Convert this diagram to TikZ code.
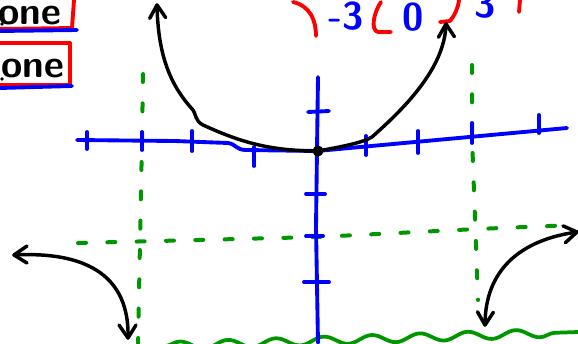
\documentclass[tikz,border=0pt]{standalone}
\usetikzlibrary{decorations.pathmorphing}

\tikzset{every picture/.style={line width=0.75pt}}
\tikzset{
  bluepen/.style={color={rgb, 255:red, 0; green, 0; blue, 255}, line width=2.9pt, line cap=round, line join=round},
  redpen/.style={color={rgb, 255:red, 255; green, 0; blue, 0}, line width=2.9pt, line cap=round, line join=round},
  blackpen/.style={color={rgb, 255:red, 0; green, 0; blue, 0}, line width=2.6pt, line cap=round, line join=round},
  greendash/.style={color={rgb, 255:red, 0; green, 150; blue, 0}, line width=3pt, line cap=round, dash pattern=on 6pt off 16pt},
  greenwave/.style={color={rgb, 255:red, 0; green, 150; blue, 0}, line width=2.8pt, decorate, decoration={snake, segment length=36pt, amplitude=3pt}},
  handtext/.style={font=\sffamily\bfseries\fontsize{29}{33}\selectfont, inner sep=0pt},
  bluetext/.style={handtext, color={rgb, 255:red, 0; green, 0; blue, 255}}
}

\begin{document}
\begin{tikzpicture}[x=0.75pt,y=0.75pt,yscale=-1,xscale=1]
	\useasboundingbox (0,0) rectangle (578,343);
	\clip (0,0) rectangle (578,343);

	%Shape: Red Box [id:top]
	\draw [redpen]  (0,29) -- (72,28) -- (74,0) ;
	\draw [bluepen]  (0,31) -- (77,30) ;
	%Shape: Red Box [id:bottom]
	\draw [redpen]  (0,43) -- (70,43) -- (70,85) -- (0,85) ;
	\draw [bluepen]  (0,88) -- (72,86) ;
	\fill (2,24) circle (1.8) ;
	\fill (2,79) circle (1.8) ;

	%Red Strokes at the top
	\draw [redpen]  (293,2) .. controls (310,6) and (316,20) .. (316,36) ;
	\draw [redpen]  (381,2) .. controls (374,12) and (370,30) .. (378,32) -- (391,32) ;
	\draw [redpen]  (440,22) -- (450,21) .. controls (455,15) and (458,8) .. (459,0) ;
	\draw [redpen]  (520,0) -- (519,12) ;

	%Green Dashed Lines
	\draw [greendash]  (143,74) -- (142,140) -- (140,243) -- (138,343) ;
	\draw [greendash]  (472,65) -- (472,137) -- (478,300) ;
	\draw [greendash]  (78,243) -- (317,237) -- (477,229) -- (573,225) ;
	%Green Wave
	\draw [greenwave]  (165,346) -- (578,332) ;

	%Horizontal Axis
	\draw [bluepen]  (77,140) -- (175,141) -- (228,143) .. controls (236,144) and (236,150) .. (246,150) -- (317,151) -- (567,128) ;
	%Vertical Axis
	\draw [bluepen]  (318,77) -- (317,150) -- (316,227) -- (318,343) ;
	%Ticks
	\draw [bluepen]  (87,132) -- (87,149) ;
	\draw [bluepen]  (142,132) -- (142,150) ;
	\draw [bluepen]  (192,131) -- (192,151) ;
	\draw [bluepen]  (254,147) -- (254,166) ;
	\draw [bluepen]  (366,136) -- (366,155) ;
	\draw [bluepen]  (418,131) -- (418,153) ;
	\draw [bluepen]  (472,123) -- (472,143) ;
	\draw [bluepen]  (539,115) -- (539,133) ;
	\draw [bluepen]  (308,112) -- (329,111) ;
	\draw [bluepen]  (306,194) -- (325,194) ;
	\draw [bluepen]  (306,236) -- (323,236) ;
	\draw [bluepen]  (304,282) -- (329,282) ;

	%Curve Lines [id:parabola]
	\draw [blackpen]  (157,5) .. controls (158,55) and (170,85) .. (193,110) .. controls (196,114) and (195,121) .. (203,125) .. controls (240,142) and (270,151) .. (318,151) .. controls (340,147) and (362,143) .. (372,137) .. controls (400,112) and (445,70) .. (446,24) ;
	\draw [shift={(157,5)}, rotate = 87] [blackpen]  (13,-8) -- (0,0) -- (13,8) ;
	\draw [shift={(446,24)}, rotate = 88] [blackpen]  (13,-8) -- (0,0) -- (13,8) ;
	%Shape: Circle [id:origin]
	\draw [fill={rgb, 255:red, 0; green, 0; blue, 0}]  (318,151) circle (5) ;

	%Curve Lines [id:leftswing]
	\draw [blackpen]  (14,255) .. controls (70,252) and (130,265) .. (128,338) ;
	\draw [shift={(14,255)}, rotate = 0] [blackpen]  (13,-9) -- (0,0) -- (13,8) ;
	\draw [shift={(128,338)}, rotate = 270] [blackpen]  (13,-9) -- (0,0) -- (13,8) ;
	%Curve Lines [id:rightswing]
	\draw [blackpen]  (577,232) .. controls (520,240) and (485,270) .. (485,325) ;
	\draw [shift={(577,232)}, rotate = 172] [blackpen]  (13,-9) -- (0,0) -- (13,8) ;
	\draw [shift={(485,325)}, rotate = 272] [blackpen]  (13,-8) -- (0,0) -- (13,8) ;

	% Text Node
	\draw (30,16) node [handtext] (firstone) {one};
	% Text Node
	\draw (33,69) node [handtext] (secondone) {one};
	% Text Node
	\draw (346,16) node [bluetext] (minusthree) {-3};
	% Text Node
	\draw (413,17) node [bluetext] (zero) {0};
	% Text Node
	\draw (485,4) node [bluetext] (three) {3};

\end{tikzpicture}
\end{document}
